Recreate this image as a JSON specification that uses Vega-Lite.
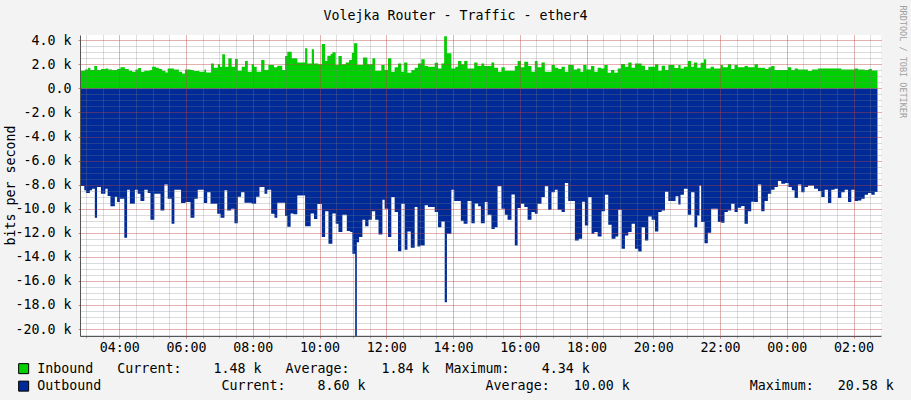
{
  "$schema": "https://vega.github.io/schema/vega-lite/v6.json",
  "width": 801,
  "height": 301,
  "autosize": "none",
  "padding": {"left": 80, "top": 35, "right": 30, "bottom": 64},
  "background": "#f3f3f3",
  "view": {"fill": "#ffffff", "stroke": null},
  "title": {"text": "Volejka Router - Traffic - ether4", "font": "DejaVu Sans Mono", "fontSize": 13.3, "fontWeight": "normal", "color": "#000000", "anchor": "middle", "frame": "group", "dx": -25, "offset": 0, "dy": 17},
  "datasets": {
    "inbound": [
      {"t":"2024-01-01T02:51","v":1470},{"t":"2024-01-01T02:58","v":1580},{"t":"2024-01-01T03:04","v":1720},{"t":"2024-01-01T03:08","v":1530},
      {"t":"2024-01-01T03:15","v":1860},{"t":"2024-01-01T03:20","v":1530},{"t":"2024-01-01T03:27","v":1610},{"t":"2024-01-01T03:35","v":1660},
      {"t":"2024-01-01T03:40","v":1580},{"t":"2024-01-01T03:47","v":1530},{"t":"2024-01-01T03:56","v":1610},{"t":"2024-01-01T04:02","v":1750},
      {"t":"2024-01-01T04:10","v":1610},{"t":"2024-01-01T04:17","v":1470},{"t":"2024-01-01T04:23","v":1390},{"t":"2024-01-01T04:29","v":1580},
      {"t":"2024-01-01T04:34","v":1690},{"t":"2024-01-01T04:39","v":1390},{"t":"2024-01-01T04:45","v":1470},{"t":"2024-01-01T04:55","v":1530},
      {"t":"2024-01-01T04:59","v":1800},{"t":"2024-01-01T05:06","v":1720},{"t":"2024-01-01T05:11","v":1610},{"t":"2024-01-01T05:17","v":1470},
      {"t":"2024-01-01T05:23","v":1330},{"t":"2024-01-01T05:27","v":1660},{"t":"2024-01-01T05:38","v":1580},{"t":"2024-01-01T05:47","v":1390},
      {"t":"2024-01-01T05:53","v":1250},{"t":"2024-01-01T05:58","v":1580},{"t":"2024-01-01T06:08","v":1530},{"t":"2024-01-01T06:14","v":1440},
      {"t":"2024-01-01T06:24","v":1390},{"t":"2024-01-01T06:33","v":1580},{"t":"2024-01-01T06:36","v":1330},{"t":"2024-01-01T06:45","v":2080},
      {"t":"2024-01-01T06:50","v":1720},{"t":"2024-01-01T06:57","v":2000},{"t":"2024-01-01T07:01","v":1800},{"t":"2024-01-01T07:05","v":2830},
      {"t":"2024-01-01T07:10","v":1800},{"t":"2024-01-01T07:16","v":2500},{"t":"2024-01-01T07:22","v":1800},{"t":"2024-01-01T07:28","v":2440},
      {"t":"2024-01-01T07:33","v":1470},{"t":"2024-01-01T07:40","v":1800},{"t":"2024-01-01T07:46","v":2280},{"t":"2024-01-01T07:51","v":1390},
      {"t":"2024-01-01T07:58","v":2000},{"t":"2024-01-01T08:02","v":1800},{"t":"2024-01-01T08:07","v":1390},{"t":"2024-01-01T08:15","v":2360},
      {"t":"2024-01-01T08:21","v":1530},{"t":"2024-01-01T08:28","v":1940},{"t":"2024-01-01T08:38","v":1750},{"t":"2024-01-01T08:44","v":1890},
      {"t":"2024-01-01T08:53","v":1530},{"t":"2024-01-01T08:58","v":2690},{"t":"2024-01-01T09:02","v":3050},{"t":"2024-01-01T09:10","v":2500},
      {"t":"2024-01-01T09:20","v":2160},{"t":"2024-01-01T09:34","v":3330},{"t":"2024-01-01T09:38","v":2080},{"t":"2024-01-01T09:46","v":3250},
      {"t":"2024-01-01T09:50","v":2080},{"t":"2024-01-01T09:58","v":2000},{"t":"2024-01-01T10:04","v":3690},{"t":"2024-01-01T10:10","v":2280},
      {"t":"2024-01-01T10:14","v":2720},{"t":"2024-01-01T10:20","v":2860},{"t":"2024-01-01T10:23","v":3000},{"t":"2024-01-01T10:29","v":1940},
      {"t":"2024-01-01T10:34","v":2690},{"t":"2024-01-01T10:40","v":2000},{"t":"2024-01-01T10:47","v":2160},{"t":"2024-01-01T10:53","v":2360},
      {"t":"2024-01-01T10:58","v":2970},{"t":"2024-01-01T11:02","v":3750},{"t":"2024-01-01T11:08","v":1940},{"t":"2024-01-01T11:18","v":2580},
      {"t":"2024-01-01T11:26","v":2000},{"t":"2024-01-01T11:35","v":2500},{"t":"2024-01-01T11:40","v":1470},{"t":"2024-01-01T11:51","v":1940},
      {"t":"2024-01-01T11:57","v":1530},{"t":"2024-01-01T12:03","v":2500},{"t":"2024-01-01T12:09","v":1390},{"t":"2024-01-01T12:15","v":1750},
      {"t":"2024-01-01T12:21","v":2080},{"t":"2024-01-01T12:27","v":1390},{"t":"2024-01-01T12:32","v":2160},{"t":"2024-01-01T12:38","v":1310},
      {"t":"2024-01-01T12:45","v":1530},{"t":"2024-01-01T12:51","v":1720},{"t":"2024-01-01T12:57","v":2080},{"t":"2024-01-01T13:03","v":2420},
      {"t":"2024-01-01T13:09","v":1860},{"t":"2024-01-01T13:15","v":1800},{"t":"2024-01-01T13:27","v":2140},{"t":"2024-01-01T13:33","v":1660},
      {"t":"2024-01-01T13:39","v":2080},{"t":"2024-01-01T13:44","v":4340},{"t":"2024-01-01T13:49","v":2920},{"t":"2024-01-01T13:57","v":1660},
      {"t":"2024-01-01T14:04","v":1800},{"t":"2024-01-01T14:09","v":2280},{"t":"2024-01-01T14:15","v":2000},{"t":"2024-01-01T14:20","v":2280},
      {"t":"2024-01-01T14:26","v":1660},{"t":"2024-01-01T14:38","v":2160},{"t":"2024-01-01T14:44","v":1860},{"t":"2024-01-01T14:51","v":2080},
      {"t":"2024-01-01T14:56","v":1860},{"t":"2024-01-01T15:09","v":2160},{"t":"2024-01-01T15:14","v":1720},{"t":"2024-01-01T15:21","v":1390},
      {"t":"2024-01-01T15:27","v":1750},{"t":"2024-01-01T15:33","v":1470},{"t":"2024-01-01T15:51","v":1860},{"t":"2024-01-01T15:56","v":2280},
      {"t":"2024-01-01T16:02","v":1750},{"t":"2024-01-01T16:08","v":2220},{"t":"2024-01-01T16:15","v":1860},{"t":"2024-01-01T16:21","v":1390},
      {"t":"2024-01-01T16:27","v":2280},{"t":"2024-01-01T16:32","v":1750},{"t":"2024-01-01T16:39","v":2160},{"t":"2024-01-01T16:45","v":1390},
      {"t":"2024-01-01T16:57","v":1940},{"t":"2024-01-01T17:03","v":1720},{"t":"2024-01-01T17:09","v":1610},{"t":"2024-01-01T17:15","v":1800},
      {"t":"2024-01-01T17:21","v":1390},{"t":"2024-01-01T17:27","v":1940},{"t":"2024-01-01T17:37","v":1580},{"t":"2024-01-01T17:43","v":1660},
      {"t":"2024-01-01T17:49","v":1390},{"t":"2024-01-01T17:54","v":1940},{"t":"2024-01-01T18:00","v":1580},{"t":"2024-01-01T18:08","v":1860},
      {"t":"2024-01-01T18:14","v":1390},{"t":"2024-01-01T18:20","v":1720},{"t":"2024-01-01T18:26","v":1660},{"t":"2024-01-01T18:32","v":1940},
      {"t":"2024-01-01T18:38","v":1310},{"t":"2024-01-01T18:44","v":1530},{"t":"2024-01-01T18:50","v":1310},{"t":"2024-01-01T18:56","v":1660},
      {"t":"2024-01-01T19:02","v":2030},{"t":"2024-01-01T19:09","v":1800},{"t":"2024-01-01T19:15","v":2160},{"t":"2024-01-01T19:21","v":1720},
      {"t":"2024-01-01T19:27","v":2080},{"t":"2024-01-01T19:39","v":1890},{"t":"2024-01-01T19:45","v":1530},{"t":"2024-01-01T19:51","v":1800},
      {"t":"2024-01-01T20:03","v":2000},{"t":"2024-01-01T20:09","v":1470},{"t":"2024-01-01T20:15","v":1890},{"t":"2024-01-01T20:21","v":1530},
      {"t":"2024-01-01T20:27","v":1940},{"t":"2024-01-01T20:38","v":1700},{"t":"2024-01-01T20:45","v":1940},{"t":"2024-01-01T20:49","v":1660},
      {"t":"2024-01-01T20:55","v":1800},{"t":"2024-01-01T21:02","v":2280},{"t":"2024-01-01T21:08","v":1800},{"t":"2024-01-01T21:13","v":2160},
      {"t":"2024-01-01T21:19","v":1720},{"t":"2024-01-01T21:25","v":2140},{"t":"2024-01-01T21:31","v":2420},{"t":"2024-01-01T21:35","v":1660},
      {"t":"2024-01-01T21:43","v":1800},{"t":"2024-01-01T21:49","v":1660},{"t":"2024-01-01T22:01","v":1940},{"t":"2024-01-01T22:05","v":1750},
      {"t":"2024-01-01T22:14","v":2000},{"t":"2024-01-01T22:20","v":1610},{"t":"2024-01-01T22:26","v":1940},{"t":"2024-01-01T22:32","v":1750},
      {"t":"2024-01-01T22:44","v":1860},{"t":"2024-01-01T22:50","v":1750},{"t":"2024-01-01T23:02","v":2000},{"t":"2024-01-01T23:08","v":1720},
      {"t":"2024-01-01T23:21","v":1610},{"t":"2024-01-01T23:27","v":1750},{"t":"2024-01-01T23:32","v":1860},{"t":"2024-01-01T23:38","v":1530},
      {"t":"2024-01-02T00:02","v":1750},{"t":"2024-01-02T00:08","v":1530},{"t":"2024-01-02T00:14","v":1660},{"t":"2024-01-02T00:20","v":1580},
      {"t":"2024-01-02T00:38","v":1440},{"t":"2024-01-02T00:45","v":1580},{"t":"2024-01-02T00:56","v":1660},{"t":"2024-01-02T01:38","v":1580},
      {"t":"2024-01-02T02:02","v":1660},{"t":"2024-01-02T02:08","v":1580},{"t":"2024-01-02T02:20","v":1530},{"t":"2024-01-02T02:27","v":1610},
      {"t":"2024-01-02T02:33","v":1480},{"t":"2024-01-02T02:43","v":1480}
    ],
    "outbound": [
      {"t":"2024-01-01T02:51","v":-8110},{"t":"2024-01-01T02:57","v":-8470},{"t":"2024-01-01T03:00","v":-8700},{"t":"2024-01-01T03:07","v":-8470},
      {"t":"2024-01-01T03:11","v":-8340},{"t":"2024-01-01T03:16","v":-10750},{"t":"2024-01-01T03:20","v":-8200},{"t":"2024-01-01T03:27","v":-8750},
      {"t":"2024-01-01T03:35","v":-8340},{"t":"2024-01-01T03:39","v":-8950},{"t":"2024-01-01T03:44","v":-9800},{"t":"2024-01-01T03:52","v":-9000},
      {"t":"2024-01-01T03:56","v":-9450},{"t":"2024-01-01T04:01","v":-9170},{"t":"2024-01-01T04:09","v":-12420},{"t":"2024-01-01T04:14","v":-8420},
      {"t":"2024-01-01T04:19","v":-9590},{"t":"2024-01-01T04:28","v":-8420},{"t":"2024-01-01T04:33","v":-8750},{"t":"2024-01-01T04:38","v":-9360},
      {"t":"2024-01-01T04:45","v":-8420},{"t":"2024-01-01T04:51","v":-8700},{"t":"2024-01-01T04:56","v":-10920},{"t":"2024-01-01T05:03","v":-8750},
      {"t":"2024-01-01T05:14","v":-10140},{"t":"2024-01-01T05:21","v":-7980},{"t":"2024-01-01T05:27","v":-9170},{"t":"2024-01-01T05:34","v":-11250},
      {"t":"2024-01-01T05:39","v":-8420},{"t":"2024-01-01T05:51","v":-9530},{"t":"2024-01-01T05:59","v":-9450},{"t":"2024-01-01T06:08","v":-10750},
      {"t":"2024-01-01T06:15","v":-9170},{"t":"2024-01-01T06:21","v":-8420},{"t":"2024-01-01T06:32","v":-9530},{"t":"2024-01-01T06:38","v":-8640},
      {"t":"2024-01-01T06:44","v":-9590},{"t":"2024-01-01T06:56","v":-10420},{"t":"2024-01-01T07:02","v":-10750},{"t":"2024-01-01T07:09","v":-8470},
      {"t":"2024-01-01T07:14","v":-10140},{"t":"2024-01-01T07:21","v":-10000},{"t":"2024-01-01T07:27","v":-11200},{"t":"2024-01-01T07:33","v":-9000},
      {"t":"2024-01-01T07:39","v":-8640},{"t":"2024-01-01T07:45","v":-9500},{"t":"2024-01-01T07:58","v":-9590},{"t":"2024-01-01T08:06","v":-9000},
      {"t":"2024-01-01T08:12","v":-8200},{"t":"2024-01-01T08:21","v":-8750},{"t":"2024-01-01T08:26","v":-8420},{"t":"2024-01-01T08:33","v":-10420},
      {"t":"2024-01-01T08:39","v":-10750},{"t":"2024-01-01T08:44","v":-9500},{"t":"2024-01-01T08:58","v":-10600},{"t":"2024-01-01T09:02","v":-11500},
      {"t":"2024-01-01T09:08","v":-10400},{"t":"2024-01-01T09:13","v":-10470},{"t":"2024-01-01T09:20","v":-8900},{"t":"2024-01-01T09:34","v":-11450},
      {"t":"2024-01-01T09:44","v":-10400},{"t":"2024-01-01T09:50","v":-10850},{"t":"2024-01-01T09:56","v":-9600},{"t":"2024-01-01T10:04","v":-12360},
      {"t":"2024-01-01T10:10","v":-10220},{"t":"2024-01-01T10:16","v":-12920},{"t":"2024-01-01T10:23","v":-10400},{"t":"2024-01-01T10:29","v":-11250},
      {"t":"2024-01-01T10:34","v":-11940},{"t":"2024-01-01T10:41","v":-10500},{"t":"2024-01-01T10:49","v":-11860},{"t":"2024-01-01T10:55","v":-11940},
      {"t":"2024-01-01T10:59","v":-13750},{"t":"2024-01-01T11:04","v":-20580},{"t":"2024-01-01T11:07","v":-12780},{"t":"2024-01-01T11:11","v":-12360},
      {"t":"2024-01-01T11:17","v":-10920},{"t":"2024-01-01T11:22","v":-11450},{"t":"2024-01-01T11:28","v":-10920},{"t":"2024-01-01T11:34","v":-10220},
      {"t":"2024-01-01T11:40","v":-10920},{"t":"2024-01-01T11:46","v":-12140},{"t":"2024-01-01T11:53","v":-9250},{"t":"2024-01-01T11:57","v":-10000},
      {"t":"2024-01-01T12:03","v":-12360},{"t":"2024-01-01T12:09","v":-9030},{"t":"2024-01-01T12:15","v":-10280},{"t":"2024-01-01T12:21","v":-13530},
      {"t":"2024-01-01T12:27","v":-9590},{"t":"2024-01-01T12:33","v":-13420},{"t":"2024-01-01T12:38","v":-11900},{"t":"2024-01-01T12:44","v":-13250},
      {"t":"2024-01-01T12:51","v":-9860},{"t":"2024-01-01T12:56","v":-13140},{"t":"2024-01-01T13:01","v":-13060},{"t":"2024-01-01T13:09","v":-9720},
      {"t":"2024-01-01T13:15","v":-9860},{"t":"2024-01-01T13:27","v":-10280},{"t":"2024-01-01T13:33","v":-11530},{"t":"2024-01-01T13:39","v":-11060},
      {"t":"2024-01-01T13:45","v":-17780},{"t":"2024-01-01T13:49","v":-12080},{"t":"2024-01-01T13:57","v":-8420},{"t":"2024-01-01T14:02","v":-9360},
      {"t":"2024-01-01T14:14","v":-11000},{"t":"2024-01-01T14:19","v":-11250},{"t":"2024-01-01T14:26","v":-9360},{"t":"2024-01-01T14:33","v":-11200},
      {"t":"2024-01-01T14:39","v":-9560},{"t":"2024-01-01T14:45","v":-9800},{"t":"2024-01-01T14:50","v":-11200},{"t":"2024-01-01T14:57","v":-9450},
      {"t":"2024-01-01T15:02","v":-10500},{"t":"2024-01-01T15:09","v":-11690},{"t":"2024-01-01T15:15","v":-11530},{"t":"2024-01-01T15:20","v":-8140},
      {"t":"2024-01-01T15:27","v":-10000},{"t":"2024-01-01T15:33","v":-10500},{"t":"2024-01-01T15:38","v":-10920},{"t":"2024-01-01T15:45","v":-8810},
      {"t":"2024-01-01T15:51","v":-13060},{"t":"2024-01-01T15:56","v":-9940},{"t":"2024-01-01T16:02","v":-9590},{"t":"2024-01-01T16:08","v":-9860},
      {"t":"2024-01-01T16:14","v":-10920},{"t":"2024-01-01T16:21","v":-10280},{"t":"2024-01-01T16:27","v":-10420},{"t":"2024-01-01T16:32","v":-9590},
      {"t":"2024-01-01T16:39","v":-9030},{"t":"2024-01-01T16:45","v":-8140},{"t":"2024-01-01T16:51","v":-10080},{"t":"2024-01-01T16:57","v":-8640},
      {"t":"2024-01-01T17:03","v":-8420},{"t":"2024-01-01T17:08","v":-10080},{"t":"2024-01-01T17:15","v":-10280},{"t":"2024-01-01T17:21","v":-7860},
      {"t":"2024-01-01T17:27","v":-9360},{"t":"2024-01-01T17:39","v":-12640},{"t":"2024-01-01T17:46","v":-12500},{"t":"2024-01-01T17:52","v":-9420},
      {"t":"2024-01-01T17:57","v":-11390},{"t":"2024-01-01T18:03","v":-9030},{"t":"2024-01-01T18:09","v":-12080},{"t":"2024-01-01T18:14","v":-11940},
      {"t":"2024-01-01T18:20","v":-12310},{"t":"2024-01-01T18:27","v":-10200},{"t":"2024-01-01T18:33","v":-8830},{"t":"2024-01-01T18:39","v":-11330},
      {"t":"2024-01-01T18:45","v":-12500},{"t":"2024-01-01T18:52","v":-12310},{"t":"2024-01-01T18:57","v":-10080},{"t":"2024-01-01T19:03","v":-13330},
      {"t":"2024-01-01T19:09","v":-12220},{"t":"2024-01-01T19:15","v":-11940},{"t":"2024-01-01T19:21","v":-11250},{"t":"2024-01-01T19:27","v":-13330},
      {"t":"2024-01-01T19:33","v":-13560},{"t":"2024-01-01T19:39","v":-11530},{"t":"2024-01-01T19:45","v":-12640},{"t":"2024-01-01T19:51","v":-10640},
      {"t":"2024-01-01T19:57","v":-10920},{"t":"2024-01-01T20:03","v":-11900},{"t":"2024-01-01T20:09","v":-10280},{"t":"2024-01-01T20:15","v":-10140},
      {"t":"2024-01-01T20:21","v":-8580},{"t":"2024-01-01T20:27","v":-9360},{"t":"2024-01-01T20:40","v":-8970},{"t":"2024-01-01T20:45","v":-9640},
      {"t":"2024-01-01T20:49","v":-8830},{"t":"2024-01-01T20:55","v":-8330},{"t":"2024-01-01T21:02","v":-10500},{"t":"2024-01-01T21:08","v":-8640},
      {"t":"2024-01-01T21:14","v":-11530},{"t":"2024-01-01T21:19","v":-10560},{"t":"2024-01-01T21:23","v":-8080},{"t":"2024-01-01T21:26","v":-11100},
      {"t":"2024-01-01T21:32","v":-12860},{"t":"2024-01-01T21:38","v":-12000},{"t":"2024-01-01T21:44","v":-10000},{"t":"2024-01-01T21:56","v":-11100},
      {"t":"2024-01-01T22:02","v":-11170},{"t":"2024-01-01T22:08","v":-10280},{"t":"2024-01-01T22:14","v":-10140},{"t":"2024-01-01T22:20","v":-9590},
      {"t":"2024-01-01T22:26","v":-10280},{"t":"2024-01-01T22:32","v":-9920},{"t":"2024-01-01T22:38","v":-9780},{"t":"2024-01-01T22:44","v":-11250},
      {"t":"2024-01-01T22:50","v":-10220},{"t":"2024-01-01T22:56","v":-9420},{"t":"2024-01-01T23:02","v":-9450},{"t":"2024-01-01T23:08","v":-7980},
      {"t":"2024-01-01T23:14","v":-10200},{"t":"2024-01-01T23:20","v":-9360},{"t":"2024-01-01T23:26","v":-8750},{"t":"2024-01-01T23:32","v":-8420},
      {"t":"2024-01-01T23:38","v":-8200},{"t":"2024-01-01T23:44","v":-7700},{"t":"2024-01-01T23:50","v":-7920},{"t":"2024-01-01T23:57","v":-7860},
      {"t":"2024-01-02T00:03","v":-8200},{"t":"2024-01-02T00:09","v":-8470},{"t":"2024-01-02T00:14","v":-9110},{"t":"2024-01-02T00:20","v":-7980},
      {"t":"2024-01-02T00:26","v":-8640},{"t":"2024-01-02T00:32","v":-8200},{"t":"2024-01-02T00:38","v":-8060},{"t":"2024-01-02T00:49","v":-8330},
      {"t":"2024-01-02T00:56","v":-8530},{"t":"2024-01-02T01:02","v":-9030},{"t":"2024-01-02T01:08","v":-8420},{"t":"2024-01-02T01:14","v":-9530},
      {"t":"2024-01-02T01:20","v":-8420},{"t":"2024-01-02T01:26","v":-8330},{"t":"2024-01-02T01:32","v":-9110},{"t":"2024-01-02T01:38","v":-8640},
      {"t":"2024-01-02T01:44","v":-8420},{"t":"2024-01-02T01:50","v":-9450},{"t":"2024-01-02T01:56","v":-8420},{"t":"2024-01-02T02:02","v":-9360},
      {"t":"2024-01-02T02:08","v":-9310},{"t":"2024-01-02T02:14","v":-9170},{"t":"2024-01-02T02:20","v":-8830},{"t":"2024-01-02T02:26","v":-8700},
      {"t":"2024-01-02T02:32","v":-8830},{"t":"2024-01-02T02:38","v":-8600},{"t":"2024-01-02T02:43","v":-8600}
    ]
  },
  "layer": [
    {
      "data": {"name": "inbound"},
      "mark": {"type": "area", "interpolate": "step-after"},
      "encoding": {
        "x": {
          "field": "t", "type": "temporal",
          "scale": {"domain": [{"year": 2024, "month": 1, "date": 1, "hours": 2, "minutes": 49, "seconds": 20}, {"year": 2024, "month": 1, "date": 2, "hours": 2, "minutes": 49, "seconds": 20}]},
          "axis": {"orient": "bottom", "grid": true, "gridColor": "#808080", "gridOpacity": 0.55, "gridDash": [1, 1],
            "values": [
              {"year":2024,"month":1,"date":1,"hours":3,"minutes":0},{"year":2024,"month":1,"date":1,"hours":3,"minutes":30},
              {"year":2024,"month":1,"date":1,"hours":4,"minutes":0},{"year":2024,"month":1,"date":1,"hours":4,"minutes":30},
              {"year":2024,"month":1,"date":1,"hours":5,"minutes":0},{"year":2024,"month":1,"date":1,"hours":5,"minutes":30},
              {"year":2024,"month":1,"date":1,"hours":6,"minutes":0},{"year":2024,"month":1,"date":1,"hours":6,"minutes":30},
              {"year":2024,"month":1,"date":1,"hours":7,"minutes":0},{"year":2024,"month":1,"date":1,"hours":7,"minutes":30},
              {"year":2024,"month":1,"date":1,"hours":8,"minutes":0},{"year":2024,"month":1,"date":1,"hours":8,"minutes":30},
              {"year":2024,"month":1,"date":1,"hours":9,"minutes":0},{"year":2024,"month":1,"date":1,"hours":9,"minutes":30},
              {"year":2024,"month":1,"date":1,"hours":10,"minutes":0},{"year":2024,"month":1,"date":1,"hours":10,"minutes":30},
              {"year":2024,"month":1,"date":1,"hours":11,"minutes":0},{"year":2024,"month":1,"date":1,"hours":11,"minutes":30},
              {"year":2024,"month":1,"date":1,"hours":12,"minutes":0},{"year":2024,"month":1,"date":1,"hours":12,"minutes":30},
              {"year":2024,"month":1,"date":1,"hours":13,"minutes":0},{"year":2024,"month":1,"date":1,"hours":13,"minutes":30},
              {"year":2024,"month":1,"date":1,"hours":14,"minutes":0},{"year":2024,"month":1,"date":1,"hours":14,"minutes":30},
              {"year":2024,"month":1,"date":1,"hours":15,"minutes":0},{"year":2024,"month":1,"date":1,"hours":15,"minutes":30},
              {"year":2024,"month":1,"date":1,"hours":16,"minutes":0},{"year":2024,"month":1,"date":1,"hours":16,"minutes":30},
              {"year":2024,"month":1,"date":1,"hours":17,"minutes":0},{"year":2024,"month":1,"date":1,"hours":17,"minutes":30},
              {"year":2024,"month":1,"date":1,"hours":18,"minutes":0},{"year":2024,"month":1,"date":1,"hours":18,"minutes":30},
              {"year":2024,"month":1,"date":1,"hours":19,"minutes":0},{"year":2024,"month":1,"date":1,"hours":19,"minutes":30},
              {"year":2024,"month":1,"date":1,"hours":20,"minutes":0},{"year":2024,"month":1,"date":1,"hours":20,"minutes":30},
              {"year":2024,"month":1,"date":1,"hours":21,"minutes":0},{"year":2024,"month":1,"date":1,"hours":21,"minutes":30},
              {"year":2024,"month":1,"date":1,"hours":22,"minutes":0},{"year":2024,"month":1,"date":1,"hours":22,"minutes":30},
              {"year":2024,"month":1,"date":1,"hours":23,"minutes":0},{"year":2024,"month":1,"date":1,"hours":23,"minutes":30},
              {"year":2024,"month":1,"date":2,"hours":0,"minutes":0},{"year":2024,"month":1,"date":2,"hours":0,"minutes":30},
              {"year":2024,"month":1,"date":2,"hours":1,"minutes":0},{"year":2024,"month":1,"date":2,"hours":1,"minutes":30},
              {"year":2024,"month":1,"date":2,"hours":2,"minutes":0},{"year":2024,"month":1,"date":2,"hours":2,"minutes":30}
            ],
            "ticks": true, "tickSize": 2, "tickColor": "#aaaaaa", "labels": false, "domain": false, "title": null, "zindex": 1}
        },
        "y": {
          "field": "v", "type": "quantitative",
          "scale": {"domain": [-20580, 4440], "nice": false, "zero": false},
          "axis": {"orient": "right", "grid": true, "gridColor": "#808080", "gridOpacity": 0.55, "gridDash": [1, 1], "tickCount": 50, "ticks": false, "labels": false, "domain": false, "title": "RRDTOOL / TOBI OETIKER", "titleFont": "DejaVu Sans Mono", "titleFontSize": 8.5, "titleFontWeight": "normal", "titleColor": "#a0a0a0", "titleAngle": 90, "titleAlign": "left", "titleBaseline": "middle", "titleX": 21, "titleY": -30, "zindex": 1}
        },
        "color": {
          "datum": "Inbound", "type": "nominal",
          "scale": {"domain": ["Inbound", "Outbound"], "range": ["#00cf00", "#002a97"]},
          "legend": {
            "orient": "none", "legendX": -63, "legendY": 327, "direction": "vertical", "title": null,
            "symbolType": "square", "symbolSize": 100, "symbolStrokeColor": "#000000", "symbolStrokeWidth": 1, "symbolOpacity": 1,
            "labelFont": "DejaVu Sans Mono", "labelFontSize": 13.3, "labelColor": "#000000", "labelLimit": 1000, "labelOffset": 7, "rowPadding": 2.5, "padding": 0,
            "labelExpr": "datum.label == 'Inbound' ? 'Inbound\u00a0\u00a0\u00a0Current:\u00a0\u00a0\u00a0\u00a01.48 k\u00a0\u00a0\u00a0Average:\u00a0\u00a0\u00a0\u00a01.84 k\u00a0\u00a0Maximum:\u00a0\u00a0\u00a0\u00a04.34 k' : 'Outbound\u00a0\u00a0\u00a0\u00a0\u00a0\u00a0\u00a0\u00a0\u00a0\u00a0\u00a0\u00a0\u00a0\u00a0\u00a0Current:\u00a0\u00a0\u00a0\u00a08.60 k\u00a0\u00a0\u00a0\u00a0\u00a0\u00a0\u00a0\u00a0\u00a0\u00a0\u00a0\u00a0\u00a0\u00a0\u00a0Average:\u00a0\u00a0\u00a010.00 k\u00a0\u00a0\u00a0\u00a0\u00a0\u00a0\u00a0\u00a0\u00a0\u00a0\u00a0\u00a0\u00a0\u00a0\u00a0Maximum:\u00a0\u00a0\u00a020.58 k'"
          }
        }
      }
    },
    {
      "data": {"name": "outbound"},
      "mark": {"type": "area", "interpolate": "step-after"},
      "encoding": {
        "x": {
          "field": "t", "type": "temporal",
          "scale": {"domain": [{"year": 2024, "month": 1, "date": 1, "hours": 2, "minutes": 49, "seconds": 20}, {"year": 2024, "month": 1, "date": 2, "hours": 2, "minutes": 49, "seconds": 20}]},
          "axis": {"orient": "bottom", "grid": true, "gridColor": "#ff0000", "gridOpacity": 0.4, "gridDash": [1, 1],
            "values": [
              {"year":2024,"month":1,"date":1,"hours":4,"minutes":0},{"year":2024,"month":1,"date":1,"hours":6,"minutes":0},
              {"year":2024,"month":1,"date":1,"hours":8,"minutes":0},{"year":2024,"month":1,"date":1,"hours":10,"minutes":0},
              {"year":2024,"month":1,"date":1,"hours":12,"minutes":0},{"year":2024,"month":1,"date":1,"hours":14,"minutes":0},
              {"year":2024,"month":1,"date":1,"hours":16,"minutes":0},{"year":2024,"month":1,"date":1,"hours":18,"minutes":0},
              {"year":2024,"month":1,"date":1,"hours":20,"minutes":0},{"year":2024,"month":1,"date":1,"hours":22,"minutes":0},
              {"year":2024,"month":1,"date":2,"hours":0,"minutes":0},{"year":2024,"month":1,"date":2,"hours":2,"minutes":0}
            ],
            "ticks": true, "tickSize": 2, "tickColor": "#e08080", "format": "%H:%M", "labelFont": "DejaVu Sans Mono", "labelFontSize": 13.3, "labelColor": "#000000", "labelPadding": 2, "labelFlush": false, "labelOverlap": false, "domain": true, "domainColor": "#555555", "title": null, "zindex": 1}
        },
        "y": {
          "field": "v", "type": "quantitative",
          "scale": {"domain": [-20580, 4440], "nice": false, "zero": false},
          "axis": {"orient": "left", "grid": true, "gridColor": "#ff0000", "gridOpacity": 0.4, "gridDash": [1, 1], "values": [-20000, -18000, -16000, -14000, -12000, -10000, -8000, -6000, -4000, -2000, 0, 2000, 4000], "ticks": true, "tickSize": 2, "tickColor": "#e08080", "labelExpr": "datum.value == 0 ? '0.0' : (datum.value < 0 ? '-' : '') + format(abs(datum.value) / 1000, '.1f') + ' k'", "labelFont": "DejaVu Sans Mono", "labelFontSize": 13.3, "labelColor": "#000000", "labelPadding": 7, "labelFlush": false, "labelOverlap": false, "domain": true, "domainColor": "#555555", "title": "bits per second", "titleFont": "DejaVu Sans Mono", "titleFontSize": 13.3, "titleFontWeight": "normal", "titleColor": "#000000", "titleAngle": -90, "titleAlign": "center", "titleBaseline": "middle", "titleX": -70, "titleY": 150, "zindex": 1}
        },
        "color": {"datum": "Outbound", "type": "nominal"}
      }
    }
  ],
  "resolve": {"axis": {"x": "independent", "y": "independent"}}
}
